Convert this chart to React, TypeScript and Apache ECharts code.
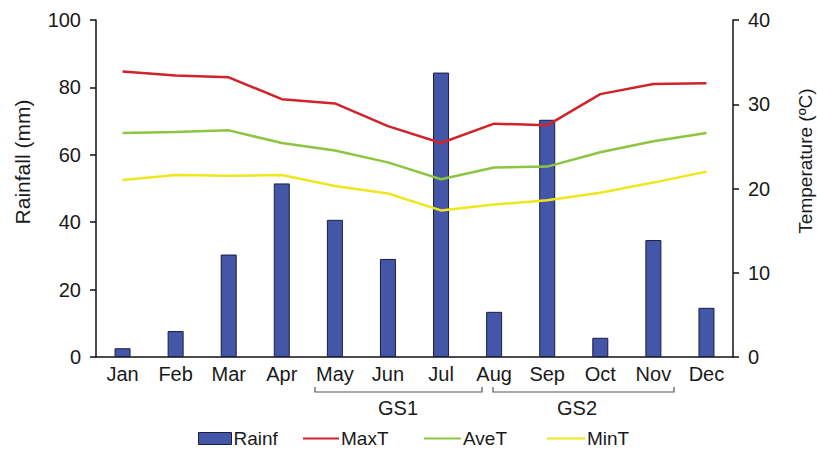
import React, { useEffect, useRef } from "react";
import * as echarts from "echarts";

const months = ["Jan", "Feb", "Mar", "Apr", "May", "Jun", "Jul", "Aug", "Sep", "Oct", "Nov", "Dec"];
const rainfall = [2.6, 7.7, 30.4, 51.5, 40.7, 29.1, 84.4, 13.4, 70.4, 5.7, 34.7, 14.6];
const maxT = [33.9, 33.4, 33.2, 30.6, 30.1, 27.4, 25.4, 27.7, 27.5, 31.2, 32.4, 32.5];
const aveT = [26.6, 26.7, 26.9, 25.4, 24.5, 23.1, 21.1, 22.5, 22.6, 24.3, 25.6, 26.6];
const minT = [21.0, 21.6, 21.5, 21.6, 20.3, 19.4, 17.4, 18.1, 18.6, 19.5, 20.7, 22.0];
const seasons = ["GS1", "GS2"];
const axisNames = ["Rainfall (mm)", "Temperature (ºC)"];

const FONT = "Liberation Sans, Arial, sans-serif";
const TXT = "#1a1a1a";
const BAR = "#4456A7";
const RED = "#D0232B";
const GREEN = "#8CC640";
const YELLOW = "#F0E61E";

export default function App() {
  const ref = useRef<HTMLDivElement>(null);
  useEffect(() => {
    if (!ref.current) return;
    const chart = echarts.init(ref.current, undefined, { renderer: "svg" });
    const legendBase = {
      top: 429,
      padding: 0,
      itemGap: 0,
      textStyle: { fontSize: 19, color: TXT, fontFamily: FONT, padding: [0, 0, 0, -3] },
    };
    chart.setOption({
      animation: false,
      textStyle: { fontFamily: FONT },
      grid: { left: 96, right: 84, top: 20, bottom: 93, containLabel: false },
      legend: [
        {
          ...legendBase,
          left: 198,
          itemWidth: 33,
          itemHeight: 12,
          data: [{ name: "Rainf", icon: "rect", itemStyle: { color: BAR, borderColor: "#1c1c44", borderWidth: 1 } }],
        },
        {
          ...legendBase,
          left: 303,
          itemWidth: 36,
          itemHeight: 2,
          data: [{ name: "MaxT", icon: "rect", itemStyle: { color: RED, borderWidth: 0 } }],
        },
        {
          ...legendBase,
          left: 424,
          itemWidth: 37,
          itemHeight: 2,
          data: [{ name: "AveT", icon: "rect", itemStyle: { color: GREEN, borderWidth: 0 } }],
        },
        {
          ...legendBase,
          left: 547,
          itemWidth: 38,
          itemHeight: 2,
          data: [{ name: "MinT", icon: "rect", itemStyle: { color: YELLOW, borderWidth: 0 } }],
        },
      ],
      xAxis: {
        type: "category",
        data: months,
        axisLine: { lineStyle: { color: "#111", width: 1.5 } },
        axisTick: { show: false },
        axisLabel: { fontSize: 20, color: TXT, margin: 7, fontFamily: FONT },
      },
      yAxis: [
        {
          type: "value",
          min: 0,
          max: 100,
          interval: 20,
          axisLine: { show: true, lineStyle: { color: "#111", width: 1.5 } },
          axisTick: { show: true, length: 6, lineStyle: { color: "#111", width: 1.5 } },
          axisLabel: { fontSize: 20, color: TXT, margin: 15, fontFamily: FONT },
          splitLine: { show: false },
        },
        {
          type: "value",
          min: 0,
          max: 40,
          interval: 10,
          axisLine: { show: true, lineStyle: { color: "#111", width: 1.5 } },
          axisTick: { show: true, length: 6, lineStyle: { color: "#111", width: 1.5 } },
          axisLabel: { fontSize: 20, color: TXT, margin: 15, fontFamily: FONT },
          splitLine: { show: false },
        },
      ],
      series: [
        {
          name: "Rainf",
          type: "bar",
          data: rainfall,
          barWidth: 16,
          yAxisIndex: 0,
          itemStyle: { color: BAR, borderColor: "#1c1c44", borderWidth: 1 },
        },
        {
          name: "MaxT",
          type: "line",
          data: maxT,
          yAxisIndex: 1,
          symbol: "none",
          lineStyle: { color: RED, width: 2.5 },
          itemStyle: { color: RED },
        },
        {
          name: "AveT",
          type: "line",
          data: aveT,
          yAxisIndex: 1,
          symbol: "none",
          lineStyle: { color: GREEN, width: 2.5 },
          itemStyle: { color: GREEN },
        },
        {
          name: "MinT",
          type: "line",
          data: minT,
          yAxisIndex: 1,
          symbol: "none",
          lineStyle: { color: YELLOW, width: 2.5 },
          itemStyle: { color: YELLOW },
        },
      ],
      graphic: [
        {
          type: "text",
          x: 22,
          y: 162,
          rotation: Math.PI / 2,
          style: { text: axisNames[0], fontSize: 21, fill: TXT, fontFamily: FONT, align: "center", verticalAlign: "middle" },
        },
        {
          type: "text",
          x: 805,
          y: 161,
          rotation: Math.PI / 2,
          style: { text: axisNames[1], fontSize: 19, fill: TXT, fontFamily: FONT, align: "center", verticalAlign: "middle" },
        },
        {
          type: "polyline",
          shape: { points: [[315, 387], [315, 392], [482, 392], [482, 387]] },
          style: { stroke: "#555", lineWidth: 1.2, fill: null },
        },
        {
          type: "polyline",
          shape: { points: [[493, 387], [493, 392], [674, 392], [674, 387]] },
          style: { stroke: "#555", lineWidth: 1.2, fill: null },
        },
        {
          type: "text",
          x: 398,
          y: 408,
          style: { text: seasons[0], fontSize: 20, fill: TXT, fontFamily: FONT, align: "center", verticalAlign: "middle" },
        },
        {
          type: "text",
          x: 577,
          y: 408,
          style: { text: seasons[1], fontSize: 20, fill: TXT, fontFamily: FONT, align: "center", verticalAlign: "middle" },
        },
      ],
    });
    return () => chart.dispose();
  }, []);
  return (
    <div
      ref={ref}
      style={{ position: "fixed", left: 0, top: 0, width: 817, height: 450, background: "#fff" }}
    />
  );
}
